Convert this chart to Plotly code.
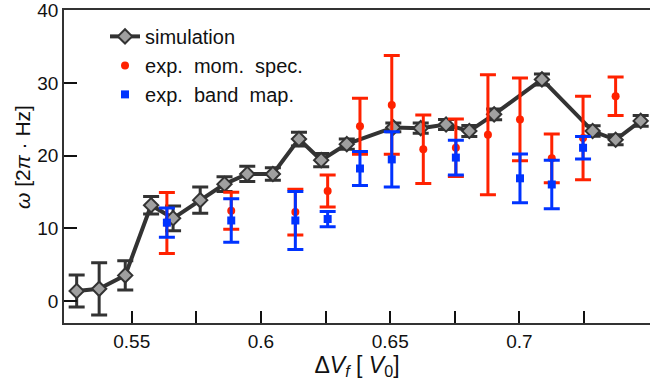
import plotly.graph_objects as go

# Simulation
sim_x = [0.5287, 0.5374, 0.5475, 0.5575, 0.5660, 0.5765, 0.5859, 0.5947, 0.6046, 0.6147,
         0.6233, 0.6332, 0.6512, 0.6618, 0.6716, 0.6806, 0.6902, 0.7087, 0.7283, 0.7372, 0.7469]
sim_y = [1.4, 1.7, 3.55, 13.2, 11.4, 13.9, 16.1, 17.5, 17.5, 22.3,
         19.4, 21.6, 23.9, 23.8, 24.3, 23.4, 25.7, 30.5, 23.4, 22.2, 24.8]
sim_err = [2.2, 3.6, 2.0, 1.2, 1.7, 1.8, 1.0, 1.05, 0.85, 0.95,
           0.9, 0.7, 0.6, 0.7, 0.7, 0.75, 0.75, 0.75, 0.73, 0.7, 0.73]

# Experiment: momentum spectroscopy
mom_x = [0.5636, 0.5885, 0.6133, 0.6258, 0.6383, 0.6506, 0.6628, 0.6754, 0.6878, 0.7002, 0.7125, 0.7246, 0.7372]
mom_y = [10.75, 12.45, 12.25, 15.15, 24.05, 27.0, 20.9, 21.1, 22.9, 25.0, 19.65, 22.45, 28.2]
mom_err = [4.2, 2.55, 3.15, 2.2, 3.85, 6.8, 4.7, 3.95, 8.25, 5.7, 3.35, 5.75, 2.65]

# Experiment: band mapping
band_x = [0.5636, 0.5885, 0.6133, 0.6258, 0.6383, 0.6506, 0.6754, 0.7002, 0.7125, 0.7246]
band_y = [10.8, 11.1, 11.1, 11.3, 18.25, 19.5, 19.75, 16.9, 16.05, 21.1]
band_err = [2.0, 3.0, 4.0, 1.05, 2.35, 3.8, 2.4, 3.35, 3.35, 1.55]

x_ticks = [0.55, 0.6, 0.65, 0.7]
x_ticktext = ["0.55", "0.6", "0.65", "0.7"]
x_minor = [0.575, 0.625, 0.675, 0.725]
y_ticks = [0, 10, 20, 30, 40]

GRAY = "#333333"
RED = "#ff2200"
BLUE = "#0033ff"
FONT = "Liberation Sans, Arial, sans-serif"

fig = go.Figure()
fig.add_trace(go.Scatter(
    x=sim_x, y=sim_y, mode="lines+markers", name="simulation",
    line=dict(color=GRAY, width=4),
    marker=dict(symbol="diamond", size=11, color="#a0a0a0", line=dict(color=GRAY, width=2)),
    error_y=dict(type="data", array=sim_err, color=GRAY, thickness=3, width=8),
))
fig.add_trace(go.Scatter(
    x=mom_x, y=mom_y, mode="markers", name="exp.  mom.  spec.",
    marker=dict(symbol="circle", size=8, color=RED),
    error_y=dict(type="data", array=mom_err, color=RED, thickness=3, width=8),
))
fig.add_trace(go.Scatter(
    x=band_x, y=band_y, mode="markers", name="exp.  band  map.",
    marker=dict(symbol="square", size=8, color=BLUE),
    error_y=dict(type="data", array=band_err, color=BLUE, thickness=3, width=8),
))

fig.update_layout(
    width=650, height=381,
    margin=dict(l=64, r=0, t=8, b=58),
    plot_bgcolor="white", paper_bgcolor="white",
    font=dict(family=FONT, size=19, color="#111111"),
    showlegend=True,
    legend=dict(x=0.07, y=0.978, xanchor="left", yanchor="top",
                bgcolor="rgba(0,0,0,0)", font=dict(size=20), tracegroupgap=0),
    xaxis=dict(range=[0.5238, 0.7505], tickvals=x_ticks, ticktext=x_ticktext,
               ticks="inside", ticklen=12, tickwidth=2, tickcolor="#111",
               minor=dict(tickvals=x_minor, ticks="inside", ticklen=12, tickwidth=2, tickcolor="#111"),
               showline=True, linecolor=GRAY, linewidth=1.5, mirror=True,
               showgrid=False, zeroline=False,
               title=dict(text="Δ<i>V<sub>f</sub></i> [ <i>V</i><sub>0</sub>]", standoff=0)),
    yaxis=dict(range=[-3.0, 40.05], tickvals=y_ticks, ticklabeloverflow="allow",
               ticks="inside", ticklen=13, tickwidth=2, tickcolor="#111",
               showline=True, linecolor=GRAY, linewidth=1.5, mirror=False,
               showgrid=False, zeroline=False),
    annotations=[dict(text="<i>ω</i> [2<i>π</i> · Hz]", xref="paper", yref="paper",
                      x=-0.0718, y=0.53, textangle=-90, showarrow=False,
                      xanchor="center", yanchor="middle", font=dict(size=21))],
)

fig.write_html("out.html", config={"displayModeBar": False},
               post_script="document.body.style.margin='0px';document.body.style.padding='0px';")
